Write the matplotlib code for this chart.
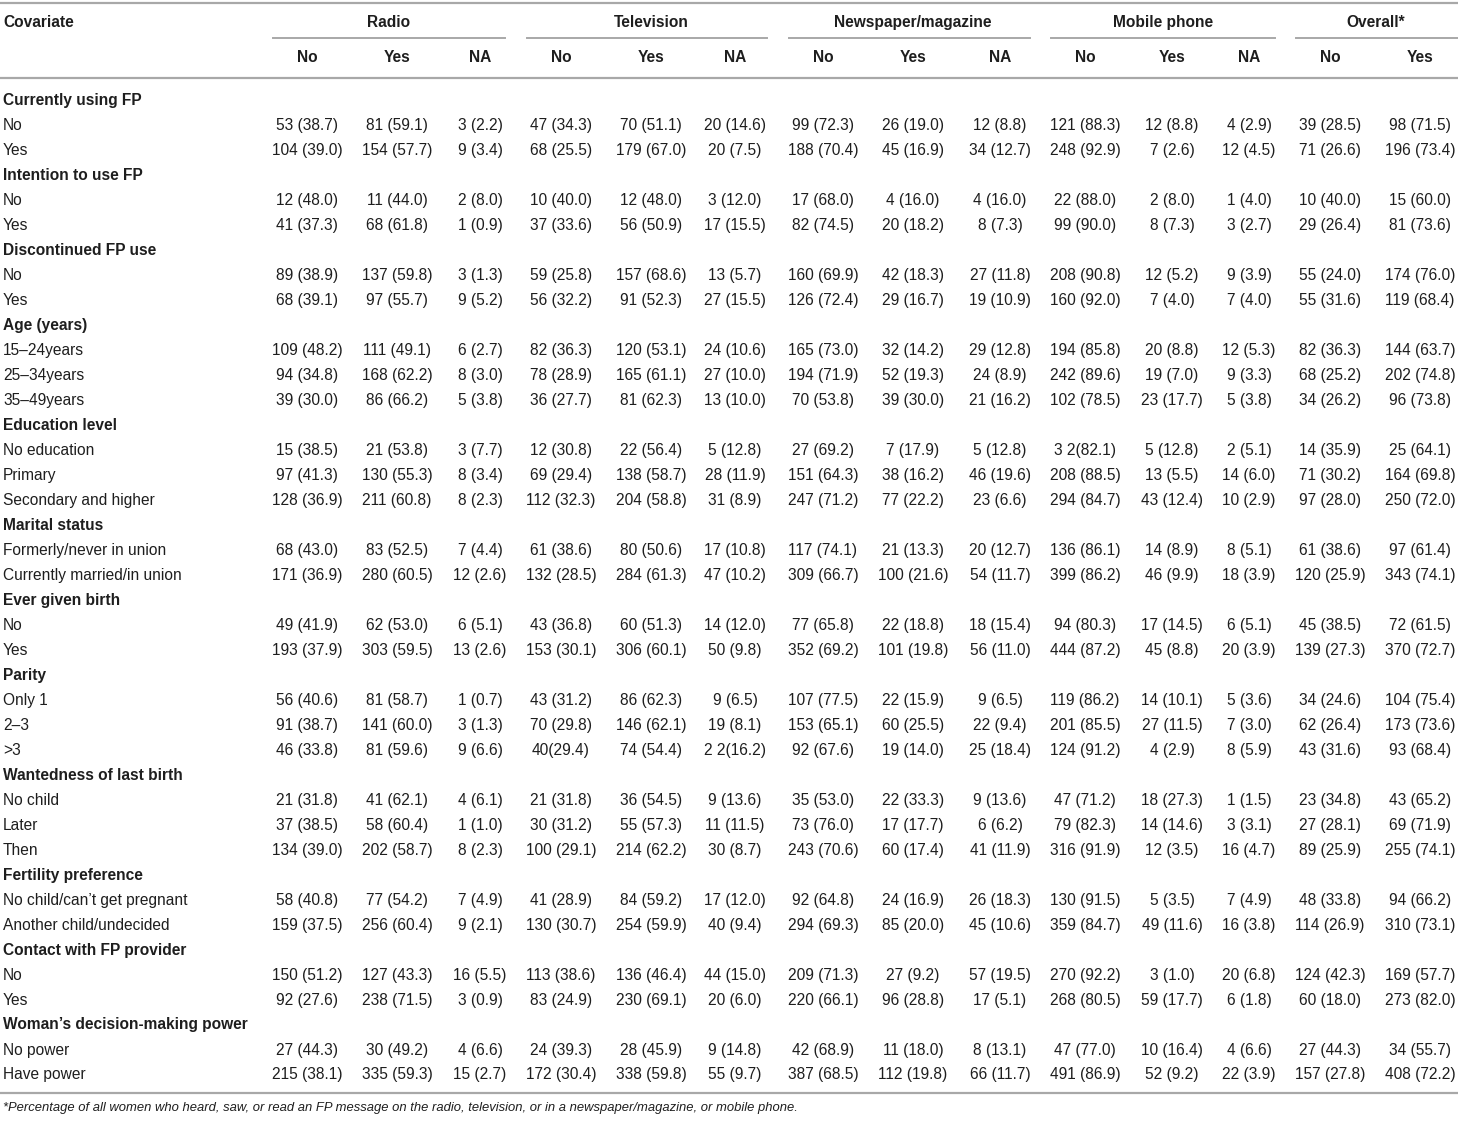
import matplotlib
matplotlib.use("Agg")
import matplotlib.pyplot as plt

plt.rcParams["font.family"] = ["Liberation Sans", "DejaVu Sans"]

# ---- data ----
media = ["Radio", "Television", "Newspaper/magazine", "Mobile phone", "Overall*"]
sub_cols = [["No", "Yes", "NA"], ["No", "Yes", "NA"], ["No", "Yes", "NA"],
            ["No", "Yes", "NA"], ["No", "Yes"]]

sections = [
    "Currently using FP", "Intention to use FP", "Discontinued FP use",
    "Age (years)", "Education level", "Marital status", "Ever given birth",
    "Parity", "Wantedness of last birth", "Fertility preference",
    "Contact with FP provider", "Woman\u2019s decision-making power",
]

row_labels = [
    ["No", "Yes"],
    ["No", "Yes"],
    ["No", "Yes"],
    ["15\u201324years", "25\u201334years", "35\u201349years"],
    ["No education", "Primary", "Secondary and higher"],
    ["Formerly/never in union", "Currently married/in union"],
    ["No", "Yes"],
    ["Only 1", "2\u20133", ">3"],
    ["No child", "Later", "Then"],
    ["No child/can\u2019t get pregnant", "Another child/undecided"],
    ["No", "Yes"],
    ["No power", "Have power"],
]

cells = [
    [["53 (38.7)", "81 (59.1)", "3 (2.2)", "47 (34.3)", "70 (51.1)", "20 (14.6)", "99 (72.3)", "26 (19.0)", "12 (8.8)", "121 (88.3)", "12 (8.8)", "4 (2.9)", "39 (28.5)", "98 (71.5)"],
     ["104 (39.0)", "154 (57.7)", "9 (3.4)", "68 (25.5)", "179 (67.0)", "20 (7.5)", "188 (70.4)", "45 (16.9)", "34 (12.7)", "248 (92.9)", "7 (2.6)", "12 (4.5)", "71 (26.6)", "196 (73.4)"]],
    [["12 (48.0)", "11 (44.0)", "2 (8.0)", "10 (40.0)", "12 (48.0)", "3 (12.0)", "17 (68.0)", "4 (16.0)", "4 (16.0)", "22 (88.0)", "2 (8.0)", "1 (4.0)", "10 (40.0)", "15 (60.0)"],
     ["41 (37.3)", "68 (61.8)", "1 (0.9)", "37 (33.6)", "56 (50.9)", "17 (15.5)", "82 (74.5)", "20 (18.2)", "8 (7.3)", "99 (90.0)", "8 (7.3)", "3 (2.7)", "29 (26.4)", "81 (73.6)"]],
    [["89 (38.9)", "137 (59.8)", "3 (1.3)", "59 (25.8)", "157 (68.6)", "13 (5.7)", "160 (69.9)", "42 (18.3)", "27 (11.8)", "208 (90.8)", "12 (5.2)", "9 (3.9)", "55 (24.0)", "174 (76.0)"],
     ["68 (39.1)", "97 (55.7)", "9 (5.2)", "56 (32.2)", "91 (52.3)", "27 (15.5)", "126 (72.4)", "29 (16.7)", "19 (10.9)", "160 (92.0)", "7 (4.0)", "7 (4.0)", "55 (31.6)", "119 (68.4)"]],
    [["109 (48.2)", "111 (49.1)", "6 (2.7)", "82 (36.3)", "120 (53.1)", "24 (10.6)", "165 (73.0)", "32 (14.2)", "29 (12.8)", "194 (85.8)", "20 (8.8)", "12 (5.3)", "82 (36.3)", "144 (63.7)"],
     ["94 (34.8)", "168 (62.2)", "8 (3.0)", "78 (28.9)", "165 (61.1)", "27 (10.0)", "194 (71.9)", "52 (19.3)", "24 (8.9)", "242 (89.6)", "19 (7.0)", "9 (3.3)", "68 (25.2)", "202 (74.8)"],
     ["39 (30.0)", "86 (66.2)", "5 (3.8)", "36 (27.7)", "81 (62.3)", "13 (10.0)", "70 (53.8)", "39 (30.0)", "21 (16.2)", "102 (78.5)", "23 (17.7)", "5 (3.8)", "34 (26.2)", "96 (73.8)"]],
    [["15 (38.5)", "21 (53.8)", "3 (7.7)", "12 (30.8)", "22 (56.4)", "5 (12.8)", "27 (69.2)", "7 (17.9)", "5 (12.8)", "3 2(82.1)", "5 (12.8)", "2 (5.1)", "14 (35.9)", "25 (64.1)"],
     ["97 (41.3)", "130 (55.3)", "8 (3.4)", "69 (29.4)", "138 (58.7)", "28 (11.9)", "151 (64.3)", "38 (16.2)", "46 (19.6)", "208 (88.5)", "13 (5.5)", "14 (6.0)", "71 (30.2)", "164 (69.8)"],
     ["128 (36.9)", "211 (60.8)", "8 (2.3)", "112 (32.3)", "204 (58.8)", "31 (8.9)", "247 (71.2)", "77 (22.2)", "23 (6.6)", "294 (84.7)", "43 (12.4)", "10 (2.9)", "97 (28.0)", "250 (72.0)"]],
    [["68 (43.0)", "83 (52.5)", "7 (4.4)", "61 (38.6)", "80 (50.6)", "17 (10.8)", "117 (74.1)", "21 (13.3)", "20 (12.7)", "136 (86.1)", "14 (8.9)", "8 (5.1)", "61 (38.6)", "97 (61.4)"],
     ["171 (36.9)", "280 (60.5)", "12 (2.6)", "132 (28.5)", "284 (61.3)", "47 (10.2)", "309 (66.7)", "100 (21.6)", "54 (11.7)", "399 (86.2)", "46 (9.9)", "18 (3.9)", "120 (25.9)", "343 (74.1)"]],
    [["49 (41.9)", "62 (53.0)", "6 (5.1)", "43 (36.8)", "60 (51.3)", "14 (12.0)", "77 (65.8)", "22 (18.8)", "18 (15.4)", "94 (80.3)", "17 (14.5)", "6 (5.1)", "45 (38.5)", "72 (61.5)"],
     ["193 (37.9)", "303 (59.5)", "13 (2.6)", "153 (30.1)", "306 (60.1)", "50 (9.8)", "352 (69.2)", "101 (19.8)", "56 (11.0)", "444 (87.2)", "45 (8.8)", "20 (3.9)", "139 (27.3)", "370 (72.7)"]],
    [["56 (40.6)", "81 (58.7)", "1 (0.7)", "43 (31.2)", "86 (62.3)", "9 (6.5)", "107 (77.5)", "22 (15.9)", "9 (6.5)", "119 (86.2)", "14 (10.1)", "5 (3.6)", "34 (24.6)", "104 (75.4)"],
     ["91 (38.7)", "141 (60.0)", "3 (1.3)", "70 (29.8)", "146 (62.1)", "19 (8.1)", "153 (65.1)", "60 (25.5)", "22 (9.4)", "201 (85.5)", "27 (11.5)", "7 (3.0)", "62 (26.4)", "173 (73.6)"],
     ["46 (33.8)", "81 (59.6)", "9 (6.6)", "40(29.4)", "74 (54.4)", "2 2(16.2)", "92 (67.6)", "19 (14.0)", "25 (18.4)", "124 (91.2)", "4 (2.9)", "8 (5.9)", "43 (31.6)", "93 (68.4)"]],
    [["21 (31.8)", "41 (62.1)", "4 (6.1)", "21 (31.8)", "36 (54.5)", "9 (13.6)", "35 (53.0)", "22 (33.3)", "9 (13.6)", "47 (71.2)", "18 (27.3)", "1 (1.5)", "23 (34.8)", "43 (65.2)"],
     ["37 (38.5)", "58 (60.4)", "1 (1.0)", "30 (31.2)", "55 (57.3)", "11 (11.5)", "73 (76.0)", "17 (17.7)", "6 (6.2)", "79 (82.3)", "14 (14.6)", "3 (3.1)", "27 (28.1)", "69 (71.9)"],
     ["134 (39.0)", "202 (58.7)", "8 (2.3)", "100 (29.1)", "214 (62.2)", "30 (8.7)", "243 (70.6)", "60 (17.4)", "41 (11.9)", "316 (91.9)", "12 (3.5)", "16 (4.7)", "89 (25.9)", "255 (74.1)"]],
    [["58 (40.8)", "77 (54.2)", "7 (4.9)", "41 (28.9)", "84 (59.2)", "17 (12.0)", "92 (64.8)", "24 (16.9)", "26 (18.3)", "130 (91.5)", "5 (3.5)", "7 (4.9)", "48 (33.8)", "94 (66.2)"],
     ["159 (37.5)", "256 (60.4)", "9 (2.1)", "130 (30.7)", "254 (59.9)", "40 (9.4)", "294 (69.3)", "85 (20.0)", "45 (10.6)", "359 (84.7)", "49 (11.6)", "16 (3.8)", "114 (26.9)", "310 (73.1)"]],
    [["150 (51.2)", "127 (43.3)", "16 (5.5)", "113 (38.6)", "136 (46.4)", "44 (15.0)", "209 (71.3)", "27 (9.2)", "57 (19.5)", "270 (92.2)", "3 (1.0)", "20 (6.8)", "124 (42.3)", "169 (57.7)"],
     ["92 (27.6)", "238 (71.5)", "3 (0.9)", "83 (24.9)", "230 (69.1)", "20 (6.0)", "220 (66.1)", "96 (28.8)", "17 (5.1)", "268 (80.5)", "59 (17.7)", "6 (1.8)", "60 (18.0)", "273 (82.0)"]],
    [["27 (44.3)", "30 (49.2)", "4 (6.6)", "24 (39.3)", "28 (45.9)", "9 (14.8)", "42 (68.9)", "11 (18.0)", "8 (13.1)", "47 (77.0)", "10 (16.4)", "4 (6.6)", "27 (44.3)", "34 (55.7)"],
     ["215 (38.1)", "335 (59.3)", "15 (2.7)", "172 (30.4)", "338 (59.8)", "55 (9.7)", "387 (68.5)", "112 (19.8)", "66 (11.7)", "491 (86.9)", "52 (9.2)", "22 (3.9)", "157 (27.8)", "408 (72.2)"]],
]

footnote = ("*Percentage of all women who heard, saw, or read an FP message on the radio, "
            "television, or in a newspaper/magazine, or mobile phone.")

# ---- layout (pixels) ----
W, H = 1458, 1122
col_x = [307, 397, 480, 561, 651, 735, 823, 913, 1000, 1085, 1172, 1249, 1330, 1420]
group_x = [389, 651, 913, 1163, 1376]
group_span = [(273, 505), (527, 767), (789, 1030), (1051, 1275), (1296, 1458)]
row0, dy = 100, 25.0
txt = "#1e1e1e"
line_c = "#a8a8a8"
fs = 11.2

fig = plt.figure(figsize=(W / 100, H / 100), dpi=100)
ax = fig.add_axes([0, 0, 1, 1])
ax.set_xlim(0, W)
ax.set_ylim(H, 0)
ax.axis("off")

# header
ax.plot([0, W], [3, 3], color=line_c, lw=1.6)
ax.text(3, 22, "Covariate", fontsize=fs, fontweight="bold", color=txt, va="center")
for name, gx, (a, b) in zip(media, group_x, group_span):
    ax.text(gx, 22, name, fontsize=fs, fontweight="bold", color=txt, va="center", ha="center")
    ax.plot([a, b], [38, 38], color=line_c, lw=1.4)
subs = [s for grp in sub_cols for s in grp]
for x, s in zip(col_x, subs):
    ax.text(x, 57, s, fontsize=fs, fontweight="bold", color=txt, va="center", ha="center")
ax.plot([0, W], [78, 78], color=line_c, lw=1.6)

# body
r = 0
for sec, labels, vals in zip(sections, row_labels, cells):
    y = row0 + r * dy
    ax.text(3, y, sec, fontsize=fs, fontweight="bold", color=txt, va="center")
    r += 1
    for lab, row in zip(labels, vals):
        y = row0 + r * dy
        ax.text(3, y, lab, fontsize=fs, color=txt, va="center")
        for x, v in zip(col_x, row):
            ax.text(x, y, v, fontsize=fs, color=txt, va="center", ha="center")
        r += 1

ax.plot([0, W], [1093, 1093], color=line_c, lw=1.6)
ax.text(3, 1108, footnote, fontsize=9.4, style="italic", color=txt, va="center")

fig.savefig("out.png", dpi=100)
